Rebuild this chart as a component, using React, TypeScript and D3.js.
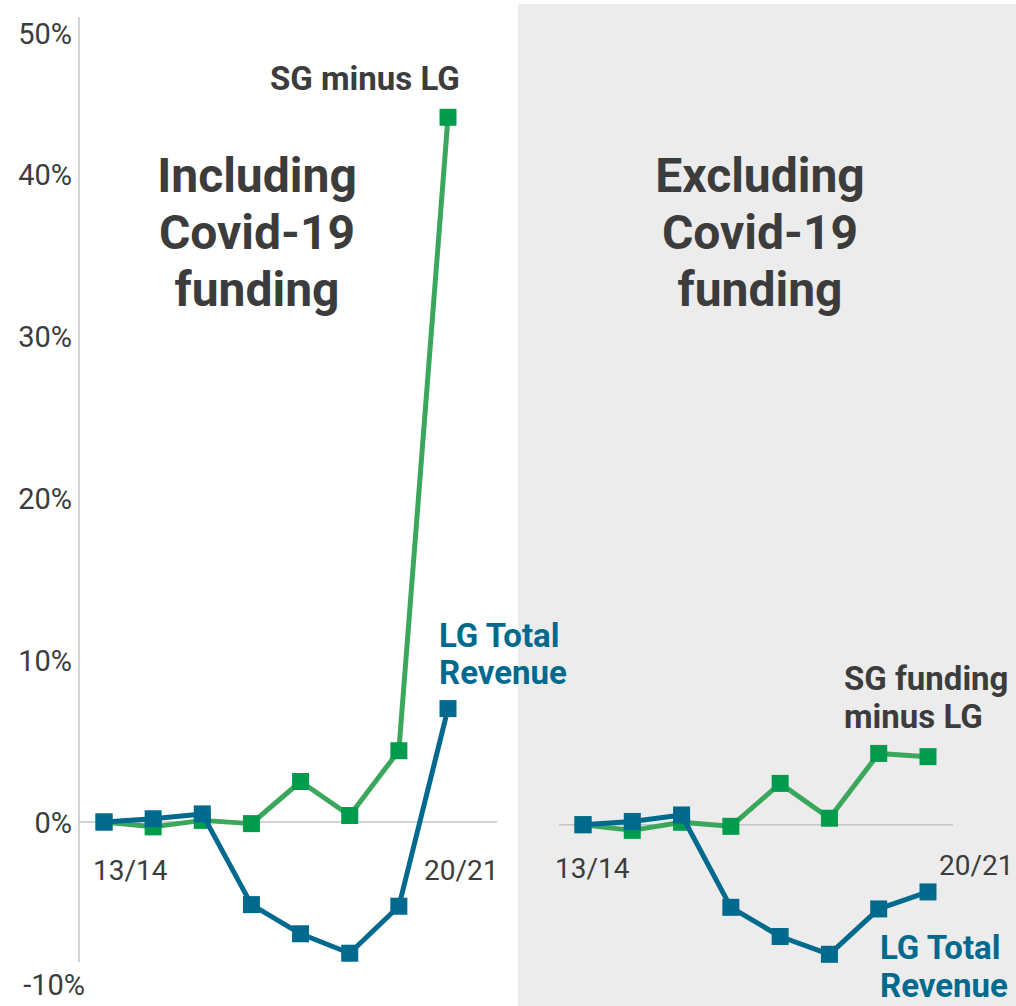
import { useEffect, useRef } from 'react'
import * as d3 from 'd3'

const years = ['13/14', '14/15', '15/16', '16/17', '17/18', '18/19', '19/20', '20/21']
const lgIncluding = [0, 0.2, 0.5, -5.1, -6.9, -8.1, -5.2, 7.0]
const sgIncluding = [0, -0.3, 0.1, -0.1, 2.5, 0.4, 4.4, 43.5]
const lgExcluding = [0, 0.2, 0.6, -5.1, -6.9, -8.0, -5.2, -4.15]
const sgExcluding = [0, -0.35, 0.15, -0.1, 2.55, 0.4, 4.4, 4.2]
const yTicks = [-10, 0, 10, 20, 30, 40, 50]

const WIDTH = 1016
const HEIGHT = 1006
const GREEN_LINE = '#3ba75c'
const GREEN = '#009b4c'
const BLUE = '#006a8e'
const DARK = '#3c3c3c'
const FONT = 'Roboto, "Liberation Sans", sans-serif'

export default function App() {
  const svgRef = useRef<SVGSVGElement>(null)

  useEffect(() => {
    if (!svgRef.current) return
    const svg = d3.select(svgRef.current)
    svg.selectAll('*').remove()

    const y = d3.scaleLinear().domain([-10, 50]).range([984, 12])
    const yR = d3.scaleLinear().domain([-10, 50]).range([986.7, 14.7])
    const xL = d3.scalePoint<string>().domain(years).range([104, 448])
    const xR = d3.scalePoint<string>().domain(years).range([583, 928])

    // shaded right panel
    svg.append('rect')
      .attr('x', 518).attr('y', 4)
      .attr('width', WIDTH - 518).attr('height', HEIGHT - 4)
      .attr('fill', '#ececec')

    // y axis
    svg.append('line')
      .attr('x1', 79).attr('x2', 79)
      .attr('y1', 17).attr('y2', 962)
      .attr('stroke', '#c4c4c4').attr('stroke-width', 1.5)

    svg.append('g')
      .selectAll('text')
      .data(yTicks)
      .enter()
      .append('text')
      .attr('x', d => (d < 0 ? 85 : 72))
      .attr('y', d => Math.max(y(d), 33) + 11)
      .attr('text-anchor', 'end')
      .attr('font-family', FONT)
      .attr('font-weight', 400)
      .attr('font-size', 29)
      .attr('fill', DARK)
      .text(d => `${d}%`)

    // zero lines
    svg.append('line')
      .attr('x1', 79).attr('x2', 497)
      .attr('y1', y(0)).attr('y2', y(0))
      .attr('stroke', '#c4c4c4').attr('stroke-width', 1.5)
    svg.append('line')
      .attr('x1', 559).attr('x2', 953)
      .attr('y1', yR(0)).attr('y2', yR(0))
      .attr('stroke', '#c4c4c4').attr('stroke-width', 1.5)

    const drawSeries = (
      values: number[],
      x: d3.ScalePoint<string>,
      yScale: d3.ScaleLinear<number, number>,
      lineColor: string,
      markColor: string
    ) => {
      const line = d3.line<number>()
        .x((_, i) => x(years[i]) as number)
        .y(d => yScale(d))
      const g = svg.append('g')
      g.append('path')
        .attr('d', line(values))
        .attr('fill', 'none')
        .attr('stroke', lineColor)
        .attr('stroke-width', 5)
        .attr('stroke-linejoin', 'round')
      const s = 17
      g.selectAll('rect')
        .data(values)
        .enter()
        .append('rect')
        .attr('x', (_, i) => (x(years[i]) as number) - s / 2)
        .attr('y', d => yScale(d) - s / 2)
        .attr('width', s)
        .attr('height', s)
        .attr('fill', markColor)
    }

    drawSeries(sgIncluding, xL, y, GREEN_LINE, GREEN)
    drawSeries(lgIncluding, xL, y, BLUE, BLUE)
    drawSeries(sgExcluding, xR, yR, GREEN_LINE, GREEN)
    drawSeries(lgExcluding, xR, yR, BLUE, BLUE)

    const text = (
      str: string, x: number, yy: number, size: number,
      weight: number, color: string, anchor = 'start'
    ) => {
      svg.append('text')
        .attr('x', x).attr('y', yy)
        .attr('text-anchor', anchor)
        .attr('font-family', FONT)
        .attr('font-weight', weight)
        .attr('font-size', size)
        .attr('fill', color)
        .text(str)
    }

    // category labels (first and last only)
    text(years[0], 93, 880, 28, 400, DARK)
    text(years[7], 424, 880, 28, 400, DARK)
    text(years[0], 555, 878, 28, 400, DARK)
    text(years[7], 939, 875, 28, 400, DARK)

    // panel titles
    ;['Including', 'Covid-19', 'funding'].forEach((t, i) =>
      text(t, 257, 192 + i * 57, 48, 700, DARK, 'middle'))
    ;['Excluding', 'Covid-19', 'funding'].forEach((t, i) =>
      text(t, 760, 192 + i * 57, 48, 700, DARK, 'middle'))

    // series labels
    text('SG minus LG', 270, 90, 33, 700, DARK)
    text('LG Total', 439, 647, 33, 700, BLUE)
    text('Revenue', 439, 684, 33, 700, BLUE)
    text('SG funding', 844, 690, 33, 700, DARK)
    text('minus LG', 844, 728, 33, 700, DARK)
    text('LG Total', 880, 959, 33, 700, BLUE)
    text('Revenue', 880, 997, 33, 700, BLUE)
  }, [])

  return (
    <svg
      ref={svgRef}
      width={WIDTH}
      height={HEIGHT}
      style={{ position: 'absolute', left: 0, top: 0, background: '#fff' }}
    />
  )
}
